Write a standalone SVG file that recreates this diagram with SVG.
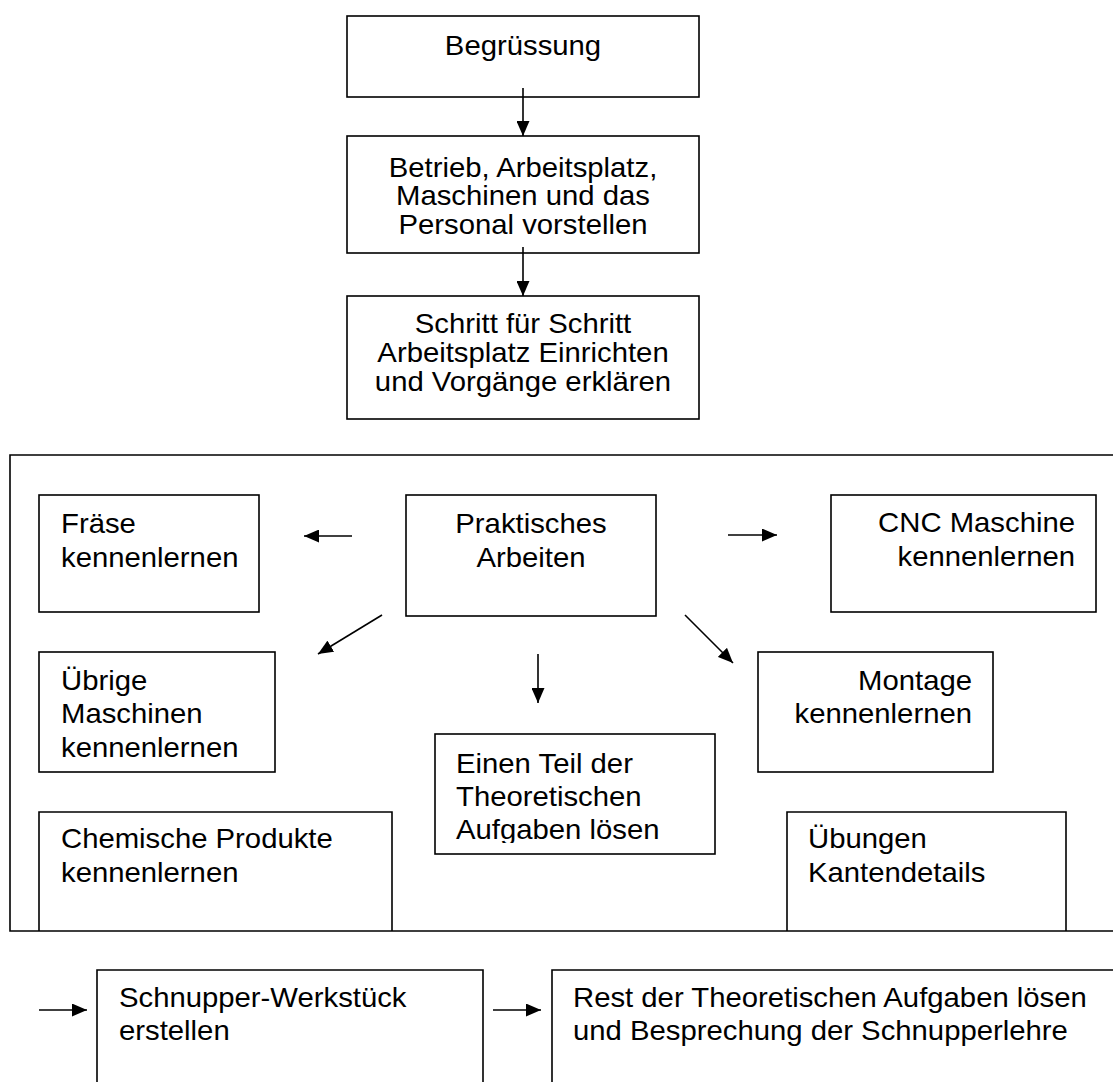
<svg xmlns="http://www.w3.org/2000/svg" width="1113" height="1082" viewBox="0 0 1113 1082">
<style>
.t{font-family:"Liberation Sans",Arial,sans-serif;font-size:27px;fill:#000}
.b{fill:none;stroke:#000;stroke-width:1.6}
.c{stroke:#000;stroke-width:1.6;fill:none;marker-end:url(#ah)}
</style>
<defs>
<marker id="ah" markerUnits="userSpaceOnUse" markerWidth="15" markerHeight="13" refX="15" refY="6.5" orient="auto">
<path d="M0,0 L15,6.5 L0,13 Z" fill="#000"/>
</marker>
<clipPath id="clipTeil"><rect x="435" y="734" width="280" height="109"/></clipPath>
</defs>
<rect width="1113" height="1082" fill="#fff"/>

<g id="container">
<path class="b" d="M1120,455 H10 V931 H1120" stroke-width="2"/>
</g>

<g id="n-begruessung">
<rect class="b" x="347" y="16" width="352" height="81"/>
<text class="t" text-anchor="middle" transform="translate(523 55) scale(1.085 1)">Begrüssung</text>
</g>

<g id="n-betrieb">
<rect class="b" x="347" y="136" width="352" height="117"/>
<text class="t" text-anchor="middle" transform="translate(523 177) scale(1.085 1)"><tspan x="0" y="0">Betrieb, Arbeitsplatz,</tspan><tspan x="0" y="28.5">Maschinen und das</tspan><tspan x="0" y="57">Personal vorstellen</tspan></text>
</g>

<g id="n-schritt">
<rect class="b" x="347" y="296" width="352" height="123"/>
<text class="t" text-anchor="middle" transform="translate(523 333) scale(1.085 1)"><tspan x="0" y="0">Schritt für Schritt</tspan><tspan x="0" y="29">Arbeitsplatz Einrichten</tspan><tspan x="0" y="58">und Vorgänge erklären</tspan></text>
</g>

<g id="n-fraese">
<rect class="b" x="39" y="495" width="220" height="117"/>
<text class="t" transform="translate(61 533) scale(1.085 1)"><tspan x="0" y="0">Fräse</tspan><tspan x="0" y="34">kennenlernen</tspan></text>
</g>

<g id="n-praktisch">
<rect class="b" x="406" y="495" width="250" height="121"/>
<text class="t" text-anchor="middle" transform="translate(531 533) scale(1.085 1)"><tspan x="0" y="0">Praktisches</tspan><tspan x="0" y="34">Arbeiten</tspan></text>
</g>

<g id="n-cnc">
<rect class="b" x="831" y="495" width="265" height="117"/>
<text class="t" text-anchor="end" transform="translate(1075 532) scale(1.085 1)"><tspan x="0" y="0">CNC Maschine</tspan><tspan x="0" y="34">kennenlernen</tspan></text>
</g>

<g id="n-uebrige">
<rect class="b" x="39" y="652" width="236" height="120"/>
<text class="t" transform="translate(61 690) scale(1.085 1)"><tspan x="0" y="0">Übrige</tspan><tspan x="0" y="33.5">Maschinen</tspan><tspan x="0" y="67">kennenlernen</tspan></text>
</g>

<g id="n-montage">
<rect class="b" x="758" y="652" width="235" height="120"/>
<text class="t" text-anchor="end" transform="translate(972 690) scale(1.085 1)"><tspan x="0" y="0">Montage</tspan><tspan x="0" y="33.5">kennenlernen</tspan></text>
</g>

<g id="n-teil">
<rect class="b" x="435" y="734" width="280" height="120"/>
<g clip-path="url(#clipTeil)">
<text class="t" transform="translate(456 773) scale(1.085 1)"><tspan x="0" y="0">Einen Teil der</tspan><tspan x="0" y="33">Theoretischen</tspan><tspan x="0" y="66">Aufgaben lösen</tspan></text>
</g>
</g>

<g id="n-chemisch">
<path class="b" d="M39,931 V812 H392 V931"/>
<text class="t" transform="translate(61 848) scale(1.085 1)"><tspan x="0" y="0">Chemische Produkte</tspan><tspan x="0" y="34">kennenlernen</tspan></text>
</g>

<g id="n-uebungen">
<path class="b" d="M787,931 V812 H1066 V931"/>
<text class="t" transform="translate(808 848) scale(1.085 1)"><tspan x="0" y="0">Übungen</tspan><tspan x="0" y="34">Kantendetails</tspan></text>
</g>

<g id="n-werkstueck">
<path class="b" d="M97,1090 V970 H483 V1090"/>
<text class="t" transform="translate(119 1007) scale(1.085 1)"><tspan x="0" y="0">Schnupper-Werkstück</tspan><tspan x="0" y="33">erstellen</tspan></text>
</g>

<g id="n-rest">
<path class="b" d="M552,1090 V970 H1120"/>
<text class="t" transform="translate(573 1007) scale(1.085 1)"><tspan x="0" y="0">Rest der Theoretischen Aufgaben lösen</tspan><tspan x="0" y="33">und Besprechung der Schnupperlehre</tspan></text>
</g>

<g id="connectors">
<line class="c" x1="523" y1="88" x2="523" y2="136"/>
<line class="c" x1="523" y1="247" x2="523" y2="296"/>
<line class="c" x1="352" y1="536" x2="304" y2="536"/>
<line class="c" x1="728" y1="535" x2="777" y2="535"/>
<line class="c" x1="382" y1="615" x2="318" y2="654"/>
<line class="c" x1="685" y1="615" x2="733" y2="663"/>
<line class="c" x1="538" y1="654" x2="538" y2="703"/>
<line class="c" x1="39" y1="1010" x2="87" y2="1010"/>
<line class="c" x1="493" y1="1010" x2="541" y2="1010"/>
</g>
</svg>
